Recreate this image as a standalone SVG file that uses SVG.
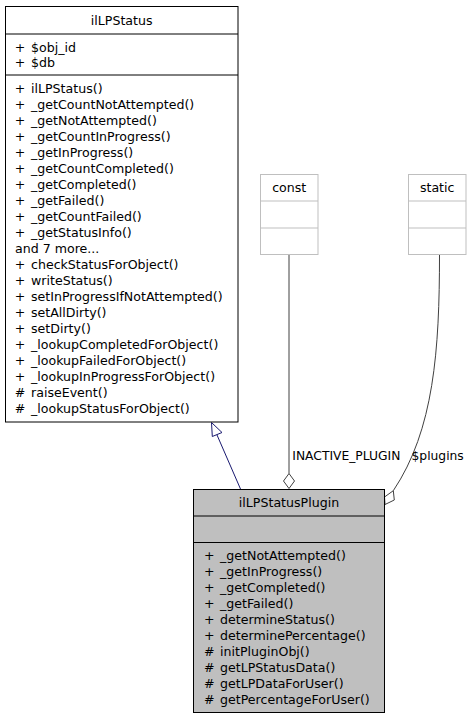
<svg xmlns="http://www.w3.org/2000/svg" width="475" height="720" viewBox="0 0 475 720">
<style>
text{font-family:"DejaVu Sans","Liberation Sans",sans-serif;font-size:12.6px;fill:#000}
.c{text-anchor:middle}
.lbl{font-size:12.3px}
.box{fill:#fff;stroke:#000;stroke-width:1}
.gbox{fill:#fff;stroke:#bfbfbf;stroke-width:1}
.sel{fill:#bfbfbf;stroke:#000;stroke-width:1}
.edge{fill:none;stroke:#404040;stroke-width:1}
.inh{fill:none;stroke:#191970;stroke-width:1}
</style>
<rect width="475" height="720" fill="#fff"/>
<g id="connectors">
  <line class="inh" x1="240.5" y1="489" x2="216.8" y2="434.5"/>
  <polygon points="211.5,422.5 222,432.5 212.3,436.5" fill="#fff" stroke="#191970"/>
  <line class="edge" x1="289" y1="254.5" x2="289" y2="473.5"/>
  <polygon points="289,473.5 294.5,481 289,488.5 283.5,481" fill="#fff" stroke="#404040"/>
  <path class="edge" d="M439.5,254.5 C439.5,350 434,430 393.3,490.7"/>
  <polygon points="393.3,490.7 394.3,500 385,504.5 384.5,497" fill="#fff" stroke="#404040"/>
  <text class="lbl" x="292.3" y="459.5">INACTIVE_PLUGIN</text>
  <text class="lbl" x="411.5" y="459.5">$plugins</text>
</g>
<g id="ilLPStatus">
  <rect class="box" x="5.5" y="6.5" width="232.5" height="415.5"/>
  <line stroke="#000" x1="5.5" y1="34" x2="238" y2="34"/>
  <line stroke="#000" x1="5.5" y1="75" x2="238" y2="75"/>
  <text class="c" x="121.7" y="24.5">ilLPStatus</text>
  <text y="51.5"><tspan x="14.8">+</tspan><tspan x="31">$obj_id</tspan></text>
  <text y="66.5"><tspan x="14.8">+</tspan><tspan x="31">$db</tspan></text>
  <text y="93"><tspan x="14.8">+</tspan><tspan x="31">ilLPStatus()</tspan></text>
  <text y="109"><tspan x="14.8">+</tspan><tspan x="31">_getCountNotAttempted()</tspan></text>
  <text y="125"><tspan x="14.8">+</tspan><tspan x="31">_getNotAttempted()</tspan></text>
  <text y="141"><tspan x="14.8">+</tspan><tspan x="31">_getCountInProgress()</tspan></text>
  <text y="157"><tspan x="14.8">+</tspan><tspan x="31">_getInProgress()</tspan></text>
  <text y="173"><tspan x="14.8">+</tspan><tspan x="31">_getCountCompleted()</tspan></text>
  <text y="189"><tspan x="14.8">+</tspan><tspan x="31">_getCompleted()</tspan></text>
  <text y="205"><tspan x="14.8">+</tspan><tspan x="31">_getFailed()</tspan></text>
  <text y="221"><tspan x="14.8">+</tspan><tspan x="31">_getCountFailed()</tspan></text>
  <text y="237"><tspan x="14.8">+</tspan><tspan x="31">_getStatusInfo()</tspan></text>
  <text x="15" y="253">and 7 more...</text>
  <text y="269"><tspan x="14.8">+</tspan><tspan x="31">checkStatusForObject()</tspan></text>
  <text y="285"><tspan x="14.8">+</tspan><tspan x="31">writeStatus()</tspan></text>
  <text y="301"><tspan x="14.8">+</tspan><tspan x="31">setInProgressIfNotAttempted()</tspan></text>
  <text y="317"><tspan x="14.8">+</tspan><tspan x="31">setAllDirty()</tspan></text>
  <text y="333"><tspan x="14.8">+</tspan><tspan x="31">setDirty()</tspan></text>
  <text y="349"><tspan x="14.8">+</tspan><tspan x="31">_lookupCompletedForObject()</tspan></text>
  <text y="365"><tspan x="14.8">+</tspan><tspan x="31">_lookupFailedForObject()</tspan></text>
  <text y="381"><tspan x="14.8">+</tspan><tspan x="31">_lookupInProgressForObject()</tspan></text>
  <text y="397"><tspan x="14.8">#</tspan><tspan x="31">raiseEvent()</tspan></text>
  <text y="413"><tspan x="14.8">#</tspan><tspan x="31">_lookupStatusForObject()</tspan></text>
</g>
<g id="const">
  <rect class="gbox" x="260.5" y="174.5" width="57.5" height="80"/>
  <line stroke="#bfbfbf" x1="260.5" y1="201" x2="318" y2="201"/>
  <line stroke="#bfbfbf" x1="260.5" y1="228" x2="318" y2="228"/>
  <text class="c" x="289.2" y="192">const</text>
</g>
<g id="static">
  <rect class="gbox" x="408.5" y="174.5" width="57.5" height="80"/>
  <line stroke="#bfbfbf" x1="408.5" y1="201" x2="466" y2="201"/>
  <line stroke="#bfbfbf" x1="408.5" y1="228" x2="466" y2="228"/>
  <text class="c" x="437.2" y="192">static</text>
</g>
<g id="ilLPStatusPlugin">
  <rect class="sel" x="193.5" y="489.5" width="191" height="223"/>
  <line stroke="#000" x1="193.5" y1="516" x2="384.5" y2="516"/>
  <line stroke="#000" x1="193.5" y1="542.5" x2="384.5" y2="542.5"/>
  <text class="c" x="289" y="507">ilLPStatusPlugin</text>
  <text y="560"><tspan x="204">+</tspan><tspan x="220">_getNotAttempted()</tspan></text>
  <text y="576"><tspan x="204">+</tspan><tspan x="220">_getInProgress()</tspan></text>
  <text y="592"><tspan x="204">+</tspan><tspan x="220">_getCompleted()</tspan></text>
  <text y="608"><tspan x="204">+</tspan><tspan x="220">_getFailed()</tspan></text>
  <text y="624"><tspan x="204">+</tspan><tspan x="220">determineStatus()</tspan></text>
  <text y="640"><tspan x="204">+</tspan><tspan x="220">determinePercentage()</tspan></text>
  <text y="656"><tspan x="204">#</tspan><tspan x="220">initPluginObj()</tspan></text>
  <text y="672"><tspan x="204">#</tspan><tspan x="220">getLPStatusData()</tspan></text>
  <text y="688"><tspan x="204">#</tspan><tspan x="220">getLPDataForUser()</tspan></text>
  <text y="704"><tspan x="204">#</tspan><tspan x="220">getPercentageForUser()</tspan></text>
</g>
</svg>
